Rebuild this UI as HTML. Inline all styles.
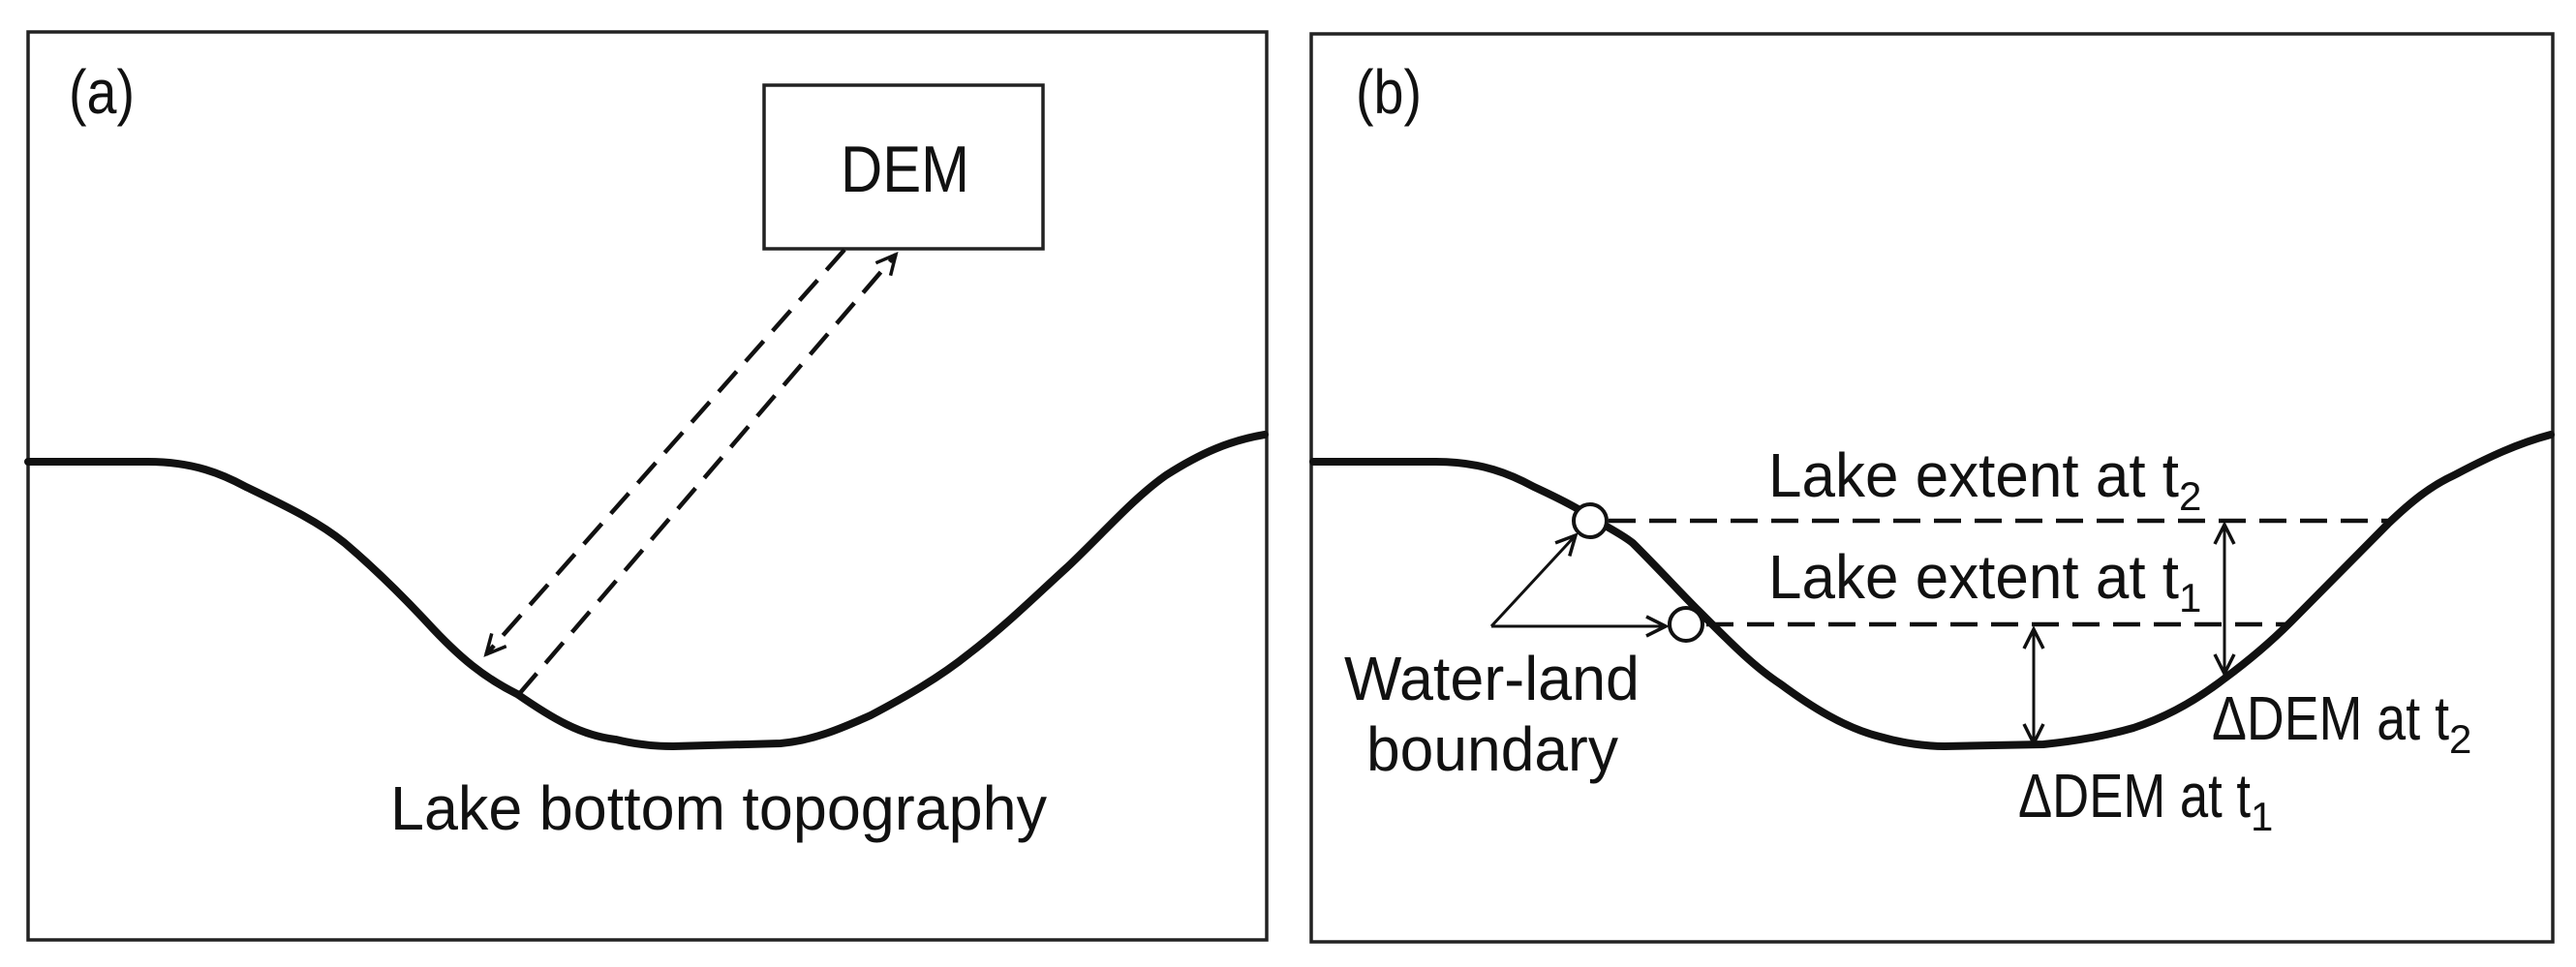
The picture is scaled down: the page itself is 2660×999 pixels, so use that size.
<!DOCTYPE html>
<html><head><meta charset="utf-8"><style>html,body{margin:0;padding:0;background:#fff}svg{display:block}</style></head>
<body>
<svg width="2660" height="999" viewBox="0 0 2660 999" xmlns="http://www.w3.org/2000/svg" font-family="'Liberation Sans', sans-serif" fill="#111">
<defs>
<marker id="oa" markerWidth="30" markerHeight="30" refX="24" refY="15" orient="auto-start-reverse" markerUnits="userSpaceOnUse"><path d="M4,5 L24,15 L4,25" fill="none" stroke="#111" stroke-width="3.5"/></marker>
</defs>
<g fill="none" stroke="#222">
<rect x="29" y="33" width="1279" height="938" stroke-width="3.5"/>
<rect x="1354" y="35" width="1282" height="938" stroke-width="3.5"/>
<rect x="789" y="88" width="288" height="169" stroke-width="3.5"/>
</g>
<g fill="none" stroke="#111" stroke-width="8" stroke-linecap="round" stroke-linejoin="round">
<path d="M29,477 L153,477 C200,477 230,490 254,503 C300,525 330,540 356,561 C390,590 415,615 441,643 C475,680 500,700 534,717 C570,742 600,760 636,764 C660,770 680,771 695,771 L806,768 C840,765 870,752 899,739 C935,720 970,700 1001,675 C1040,645 1070,615 1102,586 C1140,550 1170,515 1204,491 C1240,468 1270,455 1306,449"/>
<path d="M1356,477 L1483,477 C1530,477 1560,490 1584,503 C1610,515 1630,525 1644,535 C1660,545 1675,552 1686,561 C1715,590 1735,612 1754,631 C1785,662 1810,688 1839,707 C1870,730 1905,752 1941,761 C1965,768 1990,771 2008,771 L2110,769 C2140,766 2175,760 2203,752 C2240,740 2270,722 2297,701 C2320,684 2345,663 2365,643 C2400,608 2435,572 2466,541 C2490,518 2510,502 2534,491 C2570,472 2600,458 2634,449"/>
</g>
<g fill="none" stroke="#111" stroke-width="4.5" stroke-dasharray="28,14">
<line x1="872" y1="258" x2="502" y2="676" marker-end="url(#oa)"/>
<line x1="536" y1="717" x2="925" y2="263" marker-end="url(#oa)"/>
<line x1="1661" y1="538" x2="2466" y2="538"/>
<line x1="1762" y1="645" x2="2362" y2="645"/>
</g>
<g fill="none" stroke="#111" stroke-width="3">
<line x1="2100" y1="650" x2="2100" y2="768" marker-start="url(#oa)" marker-end="url(#oa)"/>
<line x1="2297" y1="542" x2="2297" y2="696" marker-start="url(#oa)" marker-end="url(#oa)"/>
<line x1="1540" y1="647" x2="1720" y2="647" marker-end="url(#oa)"/>
<line x1="1540" y1="647" x2="1627" y2="553" marker-end="url(#oa)"/>
</g>
<g fill="#fff" stroke="#111" stroke-width="4">
<circle cx="1642" cy="538" r="17"/>
<circle cx="1741" cy="645" r="17"/>
</g>
<g font-size="64" fill="#111">
<text x="71" y="117" textLength="68" lengthAdjust="spacingAndGlyphs">(a)</text>
<text x="1400" y="117" textLength="68" lengthAdjust="spacingAndGlyphs">(b)</text>
<text x="868" y="198" font-size="68" textLength="133" lengthAdjust="spacingAndGlyphs">DEM</text>
<text x="403" y="857" textLength="678" lengthAdjust="spacingAndGlyphs">Lake bottom topography</text>
<text x="1826" y="513"><tspan textLength="424" lengthAdjust="spacingAndGlyphs">Lake extent at t</tspan><tspan font-size="42" dy="14">2</tspan></text>
<text x="1826" y="618"><tspan textLength="424" lengthAdjust="spacingAndGlyphs">Lake extent at t</tspan><tspan font-size="42" dy="14">1</tspan></text>
<text x="2284" y="764"><tspan textLength="245" lengthAdjust="spacingAndGlyphs">ΔDEM at t</tspan><tspan font-size="42" dy="14">2</tspan></text>
<text x="2084" y="844"><tspan textLength="240" lengthAdjust="spacingAndGlyphs">ΔDEM at t</tspan><tspan font-size="42" dy="14">1</tspan></text>
<text x="1388" y="723" textLength="305" lengthAdjust="spacingAndGlyphs">Water-land</text>
<text x="1411" y="796" textLength="260" lengthAdjust="spacingAndGlyphs">boundary</text>
</g>
</svg>
</body></html>
